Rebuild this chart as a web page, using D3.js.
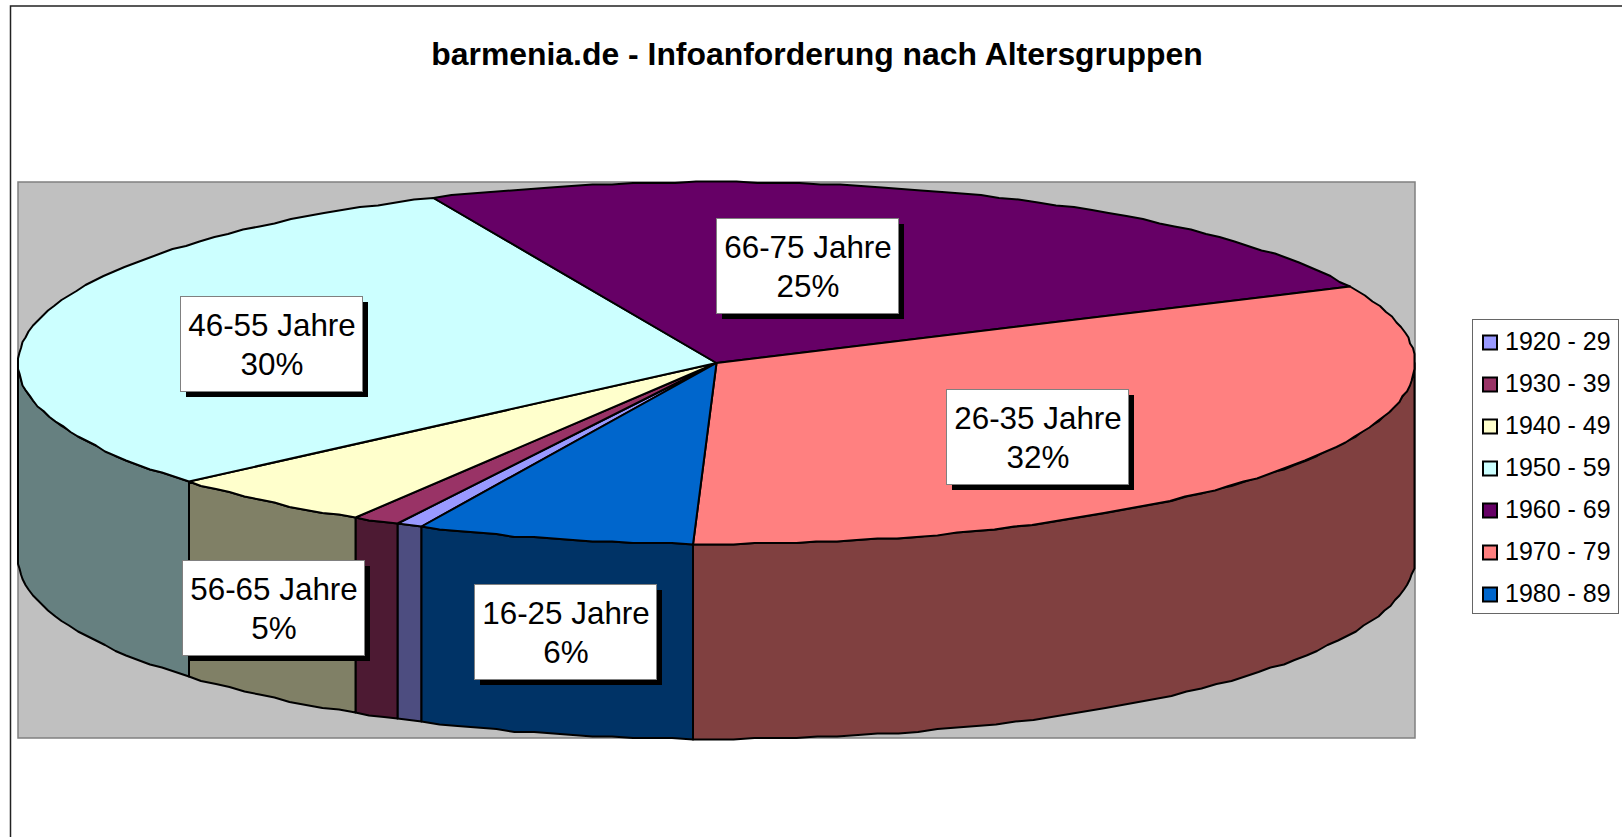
<!DOCTYPE html>
<html lang="de">
<head>
    <meta charset="UTF-8">
    <title>barmenia.de - Infoanforderung nach Altersgruppen</title>
    <script src="https://d3js.org/d3.v7.min.js"></script>
    <style>
        html, body { margin: 0; padding: 0; background: #fff; overflow: hidden; }
        svg { display: block; }
        text { font-family: "Liberation Sans", Arial, sans-serif; fill: #000; }
    </style>
</head>
<body>
    <div id="chart"></div>

    <script>
        // Chart data
        const chartTitle = 'barmenia.de - Infoanforderung nach Altersgruppen';
        const decades = ['1920 - 29', '1930 - 39', '1940 - 49', '1950 - 59', '1960 - 69', '1970 - 79', '1980 - 89'];
        const shares = [0.6, 1.1, 5, 29.7, 24.7, 32.5, 6.4];
        const ageLabels = [null, null, '56-65 Jahre', '46-55 Jahre', '66-75 Jahre', '26-35 Jahre', '16-25 Jahre'];
        const percentLabels = [null, null, '5%', '30%', '25%', '32%', '6%'];
        const colors = ['#9999FF', '#993366', '#FFFFCC', '#CCFFFF', '#660066', '#FF8080', '#0066CC'];

        // Layout
        const width = 1622, height = 837;
        const plot = { left: 18, right: 1415, top: 182, bottom: 738 };
        const depth = 195;
        const topRy = 181;
        const firstAngle = 205;   // degrees clockwise from 12 o'clock
        const boxW = 182, boxH = 95;
        // top-left corners of the label boxes, same order as the decades
        const boxPos = [null, null, [182, 560], [180, 296], [716, 218], [946, 389], [474, 584]];

        const svg = d3.select('#chart').append('svg')
            .attr('width', width)
            .attr('height', height);

        // Chart border, runs off the right and bottom of the picture
        svg.append('rect')
            .attr('x', 10.5).attr('y', 6)
            .attr('width', width + 40).attr('height', height + 40)
            .attr('fill', '#fff')
            .attr('stroke', '#222')
            .attr('stroke-width', 1.5);

        svg.append('text')
            .attr('x', 817)
            .attr('y', 64.5)
            .attr('text-anchor', 'middle')
            .attr('font-size', 31.9)
            .attr('font-weight', 'bold')
            .text(chartTitle);

        // Grey plot area
        svg.append('rect')
            .attr('x', plot.left).attr('y', plot.top)
            .attr('width', plot.right - plot.left).attr('height', plot.bottom - plot.top)
            .attr('fill', '#C0C0C0')
            .attr('stroke', '#808080')
            .attr('stroke-width', 1.5);

        // Scales map the unit circle onto the tilted ellipse
        const x = d3.scaleLinear().domain([-1, 1]).range([plot.left, plot.right]);
        const y = d3.scaleLinear().domain([-1, 1]).range([plot.top + 2 * topRy, plot.top]);

        const rad = firstAngle * Math.PI / 180;
        const arcs = d3.pie().sort(null).startAngle(rad).endAngle(rad + 2 * Math.PI)(shares);

        // the original outline is slightly jagged, so snap the rim to a small grid
        const snap = v => Math.round(v / 1.5) * 1.5;
        const project = (a, drop = 0) => [snap(x(Math.sin(a))), snap(y(Math.cos(a))) + drop];

        // sampled rim between two angles
        function rim(a0, a1, drop) {
            const n = Math.max(2, Math.ceil(Math.abs(a1 - a0) / 0.03));
            return d3.range(n + 1).map(i => project(a0 + (a1 - a0) * i / n, drop));
        }

        const halfColor = c => {
            const rgb = d3.rgb(c);
            return d3.rgb(rgb.r / 2, rgb.g / 2, rgb.b / 2);
        };

        const line = d3.line();

        // Side walls, only the front half of the pie (90 to 270 degrees) shows
        const frontStart = Math.PI / 2, frontEnd = 3 * Math.PI / 2;
        arcs.forEach((d, i) => {
            [0, 2 * Math.PI].forEach(turn => {
                const a0 = Math.max(d.startAngle - turn, frontStart);
                const a1 = Math.min(d.endAngle - turn, frontEnd);
                if (a1 <= a0) return;
                const pts = rim(a0, a1, 0).concat(rim(a1, a0, depth));
                svg.append('path')
                    .attr('d', line(pts) + 'Z')
                    .attr('fill', halfColor(colors[i]))
                    .attr('stroke', '#000')
                    .attr('stroke-width', 2)
                    .attr('stroke-linejoin', 'round');
            });
        });

        // Top face slices
        const centre = [x(0), y(0)];
        svg.selectAll('.slice')
            .data(arcs)
            .enter()
            .append('path')
            .attr('class', 'slice')
            .attr('d', d => line([centre].concat(rim(d.startAngle, d.endAngle, 0))) + 'Z')
            .attr('fill', (d, i) => colors[i])
            .attr('stroke', '#000')
            .attr('stroke-width', 2)
            .attr('stroke-linejoin', 'round');

        // Data labels with hard shadow
        decades.forEach((dec, i) => {
            if (!boxPos[i]) return;
            const [bx, by] = boxPos[i];
            svg.append('rect')
                .attr('x', bx + 6).attr('y', by + 6)
                .attr('width', boxW).attr('height', boxH)
                .attr('fill', '#000');
            svg.append('rect')
                .attr('x', bx + 0.5).attr('y', by + 0.5)
                .attr('width', boxW).attr('height', boxH)
                .attr('fill', '#fff')
                .attr('stroke', '#808080');
            svg.append('text')
                .attr('x', bx + boxW / 2 + 1)
                .attr('y', by + 40)
                .attr('text-anchor', 'middle')
                .attr('font-size', 31.4)
                .text(ageLabels[i]);
            svg.append('text')
                .attr('x', bx + boxW / 2 + 1)
                .attr('y', by + 79)
                .attr('text-anchor', 'middle')
                .attr('font-size', 31.4)
                .text(percentLabels[i]);
        });

        // Legend
        const legendBox = { x: 1472.5, y: 319.5, w: 146, h: 294 };
        const legendY = d3.scalePoint().domain(decades).range([341, 593]);

        svg.append('rect')
            .attr('x', legendBox.x).attr('y', legendBox.y)
            .attr('width', legendBox.w).attr('height', legendBox.h)
            .attr('fill', '#fff')
            .attr('stroke', '#666')
            .attr('stroke-width', 1);

        svg.selectAll('.swatch')
            .data(decades)
            .enter()
            .append('rect')
            .attr('class', 'swatch')
            .attr('x', 1483)
            .attr('y', d => legendY(d) - 5.5)
            .attr('width', 14)
            .attr('height', 14)
            .attr('fill', (d, i) => colors[i])
            .attr('stroke', '#000')
            .attr('stroke-width', 2);

        svg.selectAll('.legend-label')
            .data(decades)
            .enter()
            .append('text')
            .attr('class', 'legend-label')
            .attr('x', 1505)
            .attr('y', d => legendY(d) + 9)
            .attr('font-size', 25)
            .text(d => d);
    </script>
</body>
</html>
